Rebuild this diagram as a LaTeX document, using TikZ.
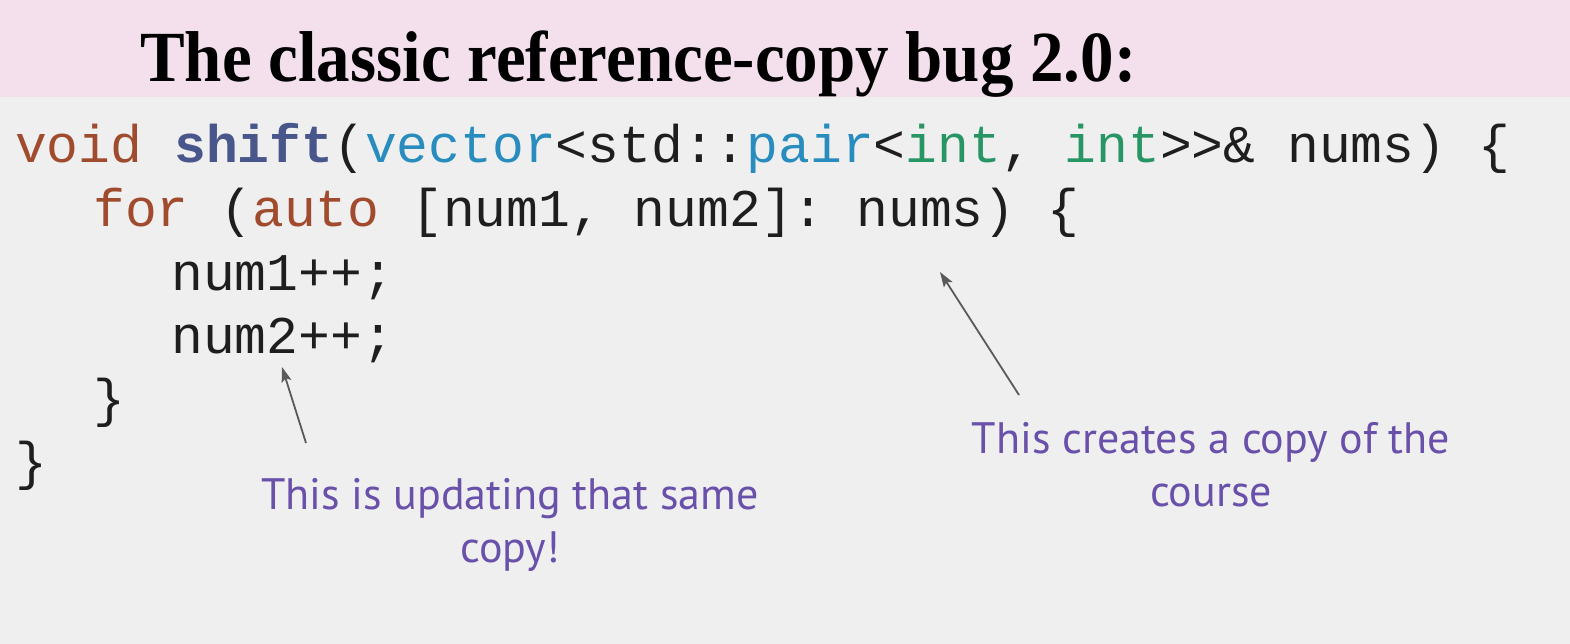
\documentclass[tikz,border=0pt]{standalone}
\usepackage{fontspec}
\setmonofont{Liberation Mono}
\newfontfamily\titlefont[FakeStretch=0.93]{Liberation Serif}
\newfontfamily\notefont{PT Sans}
\usetikzlibrary{arrows.meta}

\definecolor{bandcol}{RGB}{243,224,236}
\definecolor{bgcol}{RGB}{239,239,239}
\definecolor{codecol}{RGB}{30,30,30}
\definecolor{kwcol}{RGB}{160,75,45}
\definecolor{fncol}{RGB}{72,86,140}
\definecolor{tycol}{RGB}{40,140,190}
\definecolor{intcol}{RGB}{40,150,100}
\definecolor{notecol}{RGB}{105,80,170}
\definecolor{arrowcol}{RGB}{90,90,90}

\newcommand{\kw}[1]{{\color{kwcol}#1}}
\newcommand{\ty}[1]{{\color{tycol}#1}}
\newcommand{\tint}[1]{{\color{intcol}#1}}

\begin{document}
\begin{tikzpicture}[x=1pt,y=-1pt,>={Stealth[length=15pt,width=10pt,inset=3pt]},
        code/.style={anchor=base west, inner sep=0pt, text=codecol,
            font=\ttfamily\fontsize{53}{64}\selectfont},
        note/.style={align=center, inner sep=0pt, anchor=base, text=notecol,
            font=\notefont\fontsize{44}{53}\selectfont},
        pointer/.style={->, draw=arrowcol, line width=1.8pt}]

    % background and title band
    \fill[bgcol]   (0,0) rectangle (1570,644);
    \fill[bandcol] (0,0) rectangle (1570,97);
    \node[anchor=base west, inner sep=0pt, font=\titlefont\bfseries\fontsize{72}{80}\selectfont]
        (title) at (140,82) {The classic reference-copy bug 2.0:};

    % code
    \node[code] (l1) at (15,163)  {\kw{void} {\bfseries\color{fncol}shift}(\ty{vector}<std::\ty{pair}<\tint{int}, \tint{int}>>\& nums) \{};
    \node[code] (l2) at (93,227)  {\kw{for} (\kw{auto} [num1, num2]: nums) \{};
    \node[code] (l3) at (171,290) {num1++;};
    \node[code] (l4) at (171,353) {num2++;};
    \node[code] (l5) at (93,416)  {\}};
    \node[code] (l6) at (15,479)  {\}};

    % notes
    \node[note] (note1) at (510,562) {This is updating that same\\copy!};
    \node[note] (note2) at (1211,506) {This creates a copy of the\\course};

    \coordinate (t1) at (306,443);
    \coordinate (h1) at (282,367);
    \coordinate (t2) at (1019,395);
    \coordinate (h2) at (940,272);

    \draw[pointer] (t1) -- (h1);
    \draw[pointer] (t2) -- (h2);

\end{tikzpicture}
\end{document}
